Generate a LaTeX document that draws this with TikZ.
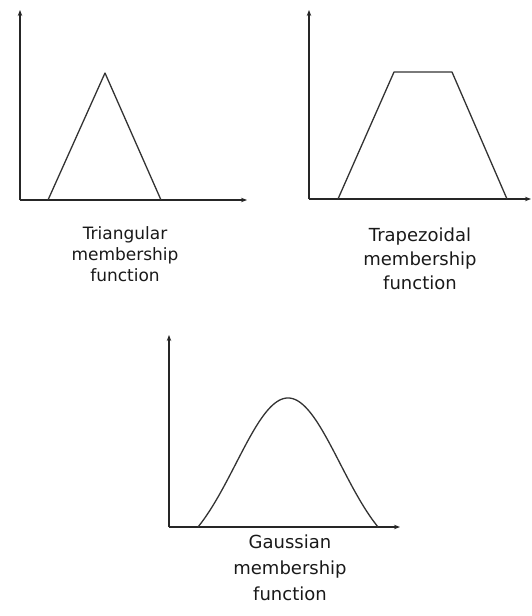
\documentclass[tikz,border=0pt]{standalone}
\usepackage{fontspec}
\setmainfont{DejaVu Sans}
\usetikzlibrary{arrows.meta}

\begin{document}
\begin{tikzpicture}[x=1pt, y=-1pt,
  axis/.style  = {-{Stealth[length=6pt,width=4.5pt]}, line width=1.7pt, color=black!85},
  curve/.style = {line width=1.3pt, color=black!80, line join=round},
  lbla/.style  = {align=center, inner sep=0pt, color=black!90, font=\fontsize{17}{21}\selectfont},
  lblb/.style  = {align=center, inner sep=0pt, color=black!90, font=\fontsize{18}{24}\selectfont},
  lblc/.style  = {align=center, inner sep=0pt, color=black!90, font=\fontsize{18}{26}\selectfont},
]
\useasboundingbox (0,0) rectangle (532,616);
% triangular
\coordinate (o1) at (20,200);
\coordinate (y1) at (20,10);
\coordinate (x1) at (247,200);
\draw[axis] (o1) -- (y1);
\draw[axis] (o1) -- (x1);
\draw[curve] (48,200) -- (105,73) -- (161,200);
\node[lbla] (tri) at (125,254) {Triangular\\membership\\function};
% trapezoidal
\coordinate (o2) at (309,199);
\coordinate (y2) at (309,10);
\coordinate (x2) at (531,199);
\draw[axis] (o2) -- (y2);
\draw[axis] (o2) -- (x2);
\draw[curve] (338,199) -- (394,72) -- (452,72) -- (507,199);
\node[lblb] (trap) at (420,259) {Trapezoidal\\membership\\function};
% gaussian
\coordinate (o3) at (169,527);
\coordinate (y3) at (169,335);
\coordinate (x3) at (400,527);
\draw[axis] (o3) -- (y3);
\draw[axis] (o3) -- (x3);
\draw[curve] plot[domain=-90:90, samples=90, smooth]
  ({288+\x}, {527-129*(exp(-0.5*(\x/52)^2)-0.2237)/(1-0.2237)});
\node[lblc] (gauss) at (290,568) {Gaussian\\membership\\function};
\end{tikzpicture}
\end{document}
